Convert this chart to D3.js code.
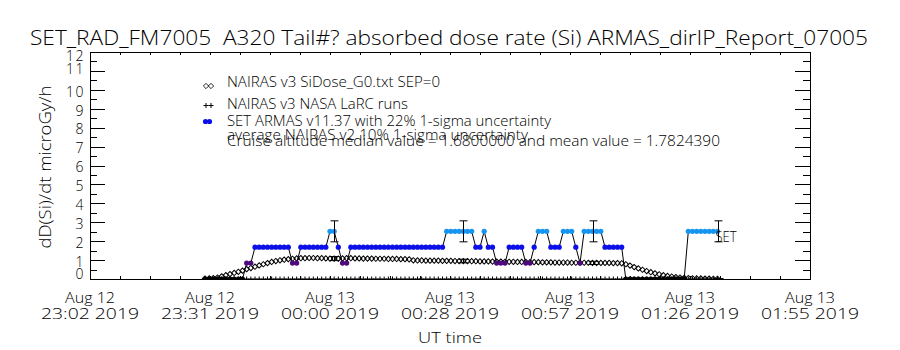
<!DOCTYPE html>
<html>
<head>
<meta charset="utf-8">
<script src="https://cdn.jsdelivr.net/npm/d3@7"></script>
<style>
  body { margin: 0; background: #fff; }
  svg { display: block; }
  text { font-family: "Open Sans", "Liberation Sans", Arial, sans-serif; font-weight: 300; fill: #000; }
</style>
</head>
<body>
<svg id="chart" width="900" height="350"></svg>
<script>
// samples are one minute apart, starting 23:30 UT
const sampleStart = Date.UTC(2019, 7, 12, 23, 30, 0);
const sampleStepMs = 60000;

// SET ARMAS dose rate, microGy/h
const armasDose = [
  0, 0, 0, 0, 0, 0, 0, 0, 0, 0,
  0.84, 0.84, 1.68, 1.68, 1.68, 1.68, 1.68, 1.68, 1.68, 1.68,
  1.68, 0.84, 0.84, 1.68, 1.68, 1.68, 1.68, 1.68, 1.68, 1.68,
  2.52, 2.52, 1.68, 0.84, 0.84, 1.68, 1.68, 1.68, 1.68, 1.68,
  1.68, 1.68, 1.68, 1.68, 1.68, 1.68, 1.68, 1.68, 1.68, 1.68,
  1.68, 1.68, 1.68, 1.68, 1.68, 1.68, 1.68, 1.68, 2.52, 2.52,
  2.52, 2.52, 2.52, 2.52, 2.52, 1.68, 1.68, 2.52, 1.68, 1.68,
  0.84, 0.84, 0.84, 1.68, 1.68, 1.68, 1.68, 0.84, 0.84, 1.68,
  2.52, 2.52, 2.52, 1.68, 1.68, 1.68, 2.52, 2.52, 2.52, 1.68,
  0.84, 2.52, 2.52, 2.52, 2.52, 2.52, 1.68, 1.68, 1.68, 1.68,
  1.68, 0, 0, 0, 0, 0, 0, 0, 0, 0,
  0, 0, 0, 0, 0, 0, 2.52, 2.52, 2.52, 2.52,
  2.52, 2.52, 2.52, 2.52
];

// NAIRAS v3 SiDose_G0
const nairasDose = [
  0.02, 0.03, 0.05, 0.08, 0.14, 0.20, 0.26, 0.32, 0.38, 0.44,
  0.52, 0.58, 0.65, 0.72, 0.78, 0.84, 0.90, 0.95, 0.99, 1.02,
  1.05, 1.07, 1.09, 1.10, 1.10, 1.11, 1.11, 1.10, 1.10, 1.09,
  1.08, 1.08, 1.08, 1.09, 1.10, 1.10, 1.09, 1.09, 1.08, 1.08,
  1.08, 1.07, 1.07, 1.07, 1.06, 1.06, 1.06, 1.05, 1.05, 1.04,
  0.99, 0.98, 0.98, 0.97, 0.97, 0.97, 0.97, 0.96, 0.96, 0.96,
  0.95, 0.95, 0.95, 0.94, 0.94, 0.94, 0.93, 0.93, 0.93, 0.92,
  0.92, 0.92, 0.91, 0.91, 0.91, 0.90, 0.90, 0.90, 0.89, 0.89,
  0.89, 0.88, 0.88, 0.88, 0.87, 0.87, 0.87, 0.87, 0.86, 0.86,
  0.86, 0.86, 0.86, 0.85, 0.85, 0.85, 0.85, 0.85, 0.84, 0.84,
  0.83, 0.78, 0.71, 0.63, 0.56, 0.49, 0.42, 0.36, 0.30, 0.25,
  0.20, 0.16, 0.13, 0.10, 0.08, 0.06, 0.05, 0.04, 0.03, 0.03,
  0.02, 0.02, 0.01, 0.01
];

// NAIRAS v3 NASA LaRC runs
const larcDose = [
  0, 0, 0, 0, 0, 0, 0, 0, 0, 0,
  0, 0, 0, 0, 0, 0, 0, 0, 0, 0,
  0, 0, 0, 0, 0, 0, 0, 0, 0, 0,
  0, 0, 0, 0, 0, 0, 0, 0, 0, 0,
  0, 0, 0, 0, 0, 0, 0, 0, 0, 0,
  0, 0, 0, 0, 0, 0, 0, 0, 0, 0,
  0, 0, 0, 0, 0, 0, 0, 0, 0, 0,
  0, 0, 0, 0, 0, 0, 0, 0, 0, 0,
  0, 0, 0, 0, 0, 0, 0, 0, 0, 0,
  0, 0, 0, 0, 0, 0, 0, 0, 0, 0,
  0, 0, 0, 0, 0, 0, 0, 0, 0, 0,
  0, 0, 0, 0, 0, 0, 0, 0, 0, 0,
  0, 0, 0, 0
];

// samples that carry an uncertainty bar
const errorBarIndex = [31, 62, 93, 123];
const armasSigma = 0.22;
const nairasSigma = 0.10;

const yTickValues = [0, 1, 2, 3, 4, 5, 6, 7, 8, 9, 10, 11, 12];
const xTickDay = ['Aug 12', 'Aug 12', 'Aug 13', 'Aug 13', 'Aug 13', 'Aug 13', 'Aug 13'];
const xTickTime = ['23:02 2019', '23:31 2019', '00:00 2019', '00:28 2019', '00:57 2019', '01:26 2019', '01:55 2019'];

const titleText = 'SET_RAD_FM7005  A320 Tail#? absorbed dose rate (Si) ARMAS_dirIP_Report_07005';
const legendLabels = [
  'NAIRAS v3 SiDose_G0.txt SEP=0',
  'NAIRAS v3 NASA LaRC runs',
  'SET ARMAS v11.37 with 22% 1-sigma uncertainty',
  'average NAIRAS v2 10% 1-sigma uncertainty',
  'Cruise altitude median value = 1.6800000 and mean value = 1.7824390'
];

const axisStart = new Date(Date.UTC(2019, 7, 12, 23, 2, 24));
const axisEnd = new Date(Date.UTC(2019, 7, 13, 1, 55, 12));

const svg = d3.select('#chart');
const plot = {left: 90, right: 810, top: 52, bottom: 279};

const x = d3.scaleTime().domain([axisStart, axisEnd]).range([plot.left, plot.right]);
const y = d3.scaleLinear().domain([0, 12]).range([plot.bottom, plot.top]);

const doseColor = d3.scaleThreshold()
  .domain([0.4, 1.2, 2.1])
  .range(['#000000', '#4e0a7c', '#0c10e8', '#1594f0']);

const timeOf = i => new Date(sampleStart + i * sampleStepMs);

// tick times: majors every 28.8 min, minors every 7.2 min
const spanMs = axisEnd - axisStart;
const majorTimes = xTickDay.map((d, i) => new Date(+axisStart + i * spanMs / 6));
const minorTimes = d3.range(25).map(i => new Date(+axisStart + i * spanMs / 24));

svg.append('defs').append('clipPath').attr('id', 'plotClip')
  .append('rect')
  .attr('x', plot.left).attr('y', plot.top)
  .attr('width', plot.right - plot.left).attr('height', plot.bottom - plot.top);

// title
svg.append('text')
  .attr('x', 30).attr('y', 45)
  .attr('font-size', 21)
  .style('white-space', 'pre')
  .attr('textLength', 838).attr('lengthAdjust', 'spacingAndGlyphs')
  .text(titleText);

// axes
const axisG = svg.append('g').attr('shape-rendering', 'crispEdges');

axisG.append('g').attr('transform', `translate(${plot.left},0)`)
  .call(d3.axisLeft(y).tickValues(yTickValues).tickSize(-15).tickPadding(5))
  .call(g => g.select('.domain').remove())
  .call(g => g.selectAll('text')
    .attr('font-size', 14).attr('font-family', null)
    .attr('letter-spacing', 1.5)
    .attr('dy', d => d === 0 ? '-0.05em' : d === 12 ? '0.6em' : d === 11 ? '0.2em' : '0.45em'));

axisG.append('g').attr('transform', `translate(${plot.left},0)`)
  .call(d3.axisLeft(y).tickValues(d3.range(0.5, 12, 1)).tickSize(-7).tickFormat(''))
  .call(g => g.select('.domain').remove());

axisG.append('g').attr('transform', `translate(${plot.right},0)`)
  .call(d3.axisRight(y).tickValues(yTickValues).tickSize(-15).tickFormat(''))
  .call(g => g.select('.domain').remove());

axisG.append('g').attr('transform', `translate(${plot.right},0)`)
  .call(d3.axisRight(y).tickValues(d3.range(0.5, 12, 1)).tickSize(-7).tickFormat(''))
  .call(g => g.select('.domain').remove());

axisG.append('g').attr('transform', `translate(0,${plot.bottom})`)
  .call(d3.axisBottom(x).tickValues(minorTimes).tickSize(-3).tickFormat(''))
  .call(g => g.select('.domain').remove());

axisG.append('g').attr('transform', `translate(0,${plot.top})`)
  .call(d3.axisTop(x).tickValues(minorTimes).tickSize(-3).tickFormat(''))
  .call(g => g.select('.domain').remove());

axisG.append('rect')
  .attr('x', plot.left).attr('y', plot.top)
  .attr('width', plot.right - plot.left).attr('height', plot.bottom - plot.top)
  .attr('fill', 'none').attr('stroke', '#000');

// x tick labels, two lines each
const xLab = svg.append('g').selectAll('g')
  .data(majorTimes)
  .join('g')
  .attr('transform', d => `translate(${x(d)},0)`);
xLab.append('text')
  .attr('y', 303).attr('text-anchor', 'middle').attr('font-size', 15)
  .attr('textLength', 50).attr('lengthAdjust', 'spacingAndGlyphs')
  .text((d, i) => xTickDay[i]);
xLab.append('text')
  .attr('y', 319).attr('text-anchor', 'middle').attr('font-size', 15)
  .attr('textLength', 98).attr('lengthAdjust', 'spacingAndGlyphs')
  .text((d, i) => xTickTime[i]);

svg.append('text')
  .attr('x', (plot.left + plot.right) / 2).attr('y', 343)
  .attr('text-anchor', 'middle').attr('font-size', 15)
  .attr('textLength', 64).attr('lengthAdjust', 'spacingAndGlyphs')
  .text('UT time');

svg.append('text')
  .attr('transform', `translate(51,167) rotate(-90)`)
  .attr('text-anchor', 'middle').attr('font-size', 17)
  .attr('textLength', 163).attr('lengthAdjust', 'spacingAndGlyphs')
  .text('dD(Si)/dt microGy/h');

// data layers
const series = svg.append('g').attr('clip-path', 'url(#plotClip)');

const diamond = d3.symbol(d3.symbolSquare, 14);
const plusPath = 'M-2.5,0H2.5M0,-2.5V2.5';

series.append('g')
  .selectAll('path')
  .data(nairasDose)
  .join('path')
  .attr('transform', (d, i) => `translate(${x(timeOf(i))},${y(d)}) rotate(45)`)
  .attr('d', diamond)
  .attr('fill', 'none').attr('stroke', '#000').attr('stroke-width', 1);

series.append('g')
  .selectAll('path')
  .data(larcDose)
  .join('path')
  .attr('transform', (d, i) => `translate(${x(timeOf(i))},${y(d)})`)
  .attr('d', plusPath)
  .attr('fill', 'none').attr('stroke', '#000').attr('stroke-width', 1);

const armasLine = d3.line()
  .x((d, i) => x(timeOf(i)))
  .y(d => y(d));

series.append('path')
  .datum(armasDose)
  .attr('d', armasLine)
  .attr('fill', 'none').attr('stroke', '#000').attr('stroke-width', 1);

series.append('g')
  .selectAll('circle')
  .data(armasDose)
  .join('circle')
  .attr('cx', (d, i) => x(timeOf(i)))
  .attr('cy', d => y(d))
  .attr('r', 2.6)
  .attr('fill', d => doseColor(d));

// uncertainty bars
function drawBars(values, sigma, capHalf) {
  const g = svg.append('g').attr('stroke', '#000').attr('stroke-width', 1).attr('fill', 'none');
  errorBarIndex.forEach(i => {
    const cx = Math.round(x(timeOf(i))) + 0.5;
    const v = values[i];
    const hi = y(v * (1 + sigma));
    const lo = y(v * (1 - sigma));
    g.append('line').attr('x1', cx).attr('x2', cx).attr('y1', hi).attr('y2', lo);
    g.append('line').attr('x1', cx - capHalf).attr('x2', cx + capHalf).attr('y1', hi).attr('y2', hi);
    g.append('line').attr('x1', cx - capHalf).attr('x2', cx + capHalf).attr('y1', lo).attr('y2', lo);
  });
}
drawBars(armasDose, armasSigma, 4);
drawBars(nairasDose, nairasSigma, 5);

// label at the end of the ARMAS trace
const lastIndex = armasDose.length - 1;
svg.append('text')
  .attr('x', x(timeOf(lastIndex)) - 2)
  .attr('y', y(armasDose[lastIndex]) + 11)
  .attr('font-size', 14)
  .attr('textLength', 21).attr('lengthAdjust', 'spacingAndGlyphs')
  .text('SET');

// legend
const legendX = 227;
const legendBase = [87, 108.5, 126, 139.7, 146];
const legendWidth = [213, 181, 324, 301, 493];

svg.append('g').selectAll('text')
  .data(legendLabels)
  .join('text')
  .attr('x', legendX)
  .attr('y', (d, i) => legendBase[i])
  .attr('font-size', 14)
  .attr('textLength', (d, i) => legendWidth[i]).attr('lengthAdjust', 'spacingAndGlyphs')
  .text(d => d);

const legendSym = svg.append('g');
[206, 211].forEach(sx => {
  legendSym.append('path')
    .attr('transform', `translate(${sx},86) rotate(45)`)
    .attr('d', diamond)
    .attr('fill', 'none').attr('stroke', '#000').attr('stroke-width', 0.8);
  legendSym.append('path')
    .attr('transform', `translate(${sx},105.5)`)
    .attr('d', plusPath)
    .attr('fill', 'none').attr('stroke', '#000');
});
[205.5, 209.5].forEach(sx => {
  legendSym.append('circle')
    .attr('cx', sx).attr('cy', 121.5).attr('r', 2.6)
    .attr('fill', doseColor(1.68));
});
</script>
</body>
</html>
